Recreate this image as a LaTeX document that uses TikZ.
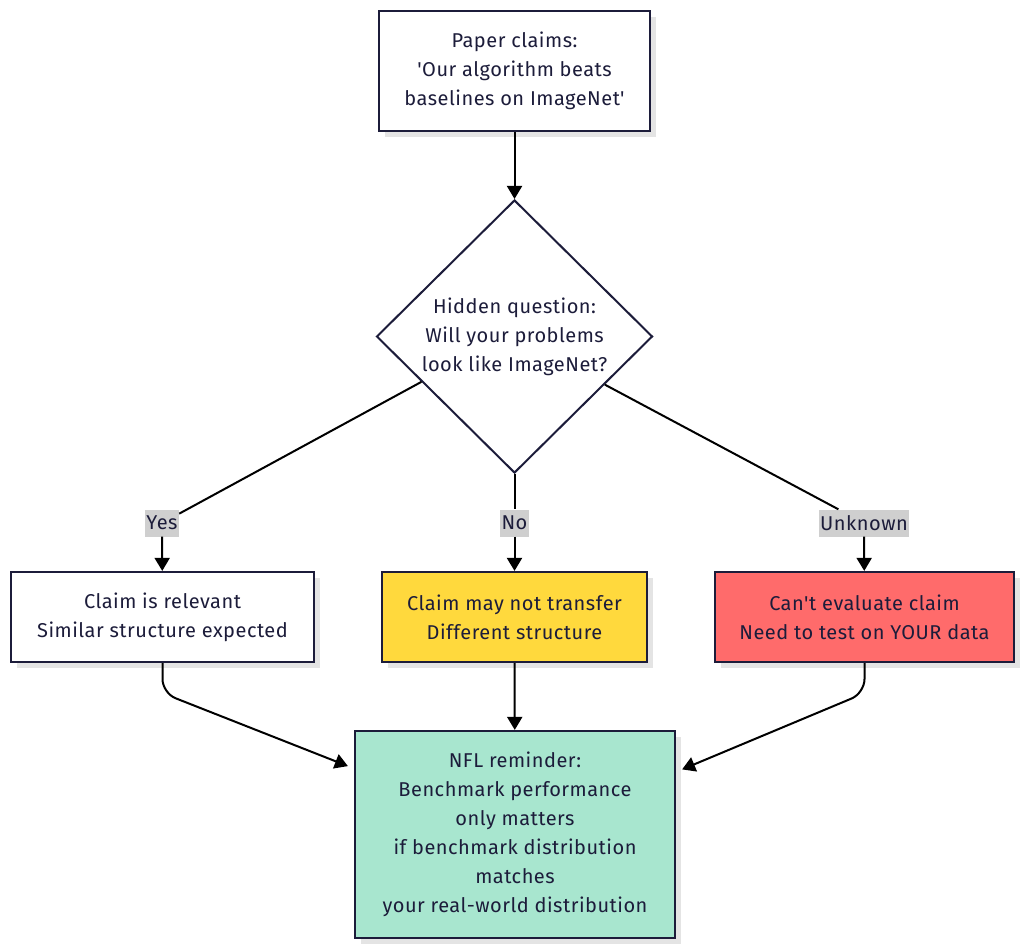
\documentclass[tikz,border=0pt]{standalone}
\usepackage{fontspec}
\setmainfont{Fira Sans}[Ligatures=TeXOff, LetterSpace=2.5]
\usetikzlibrary{arrows.meta,shapes.geometric,shadows,calc}
\definecolor{ink}{HTML}{1C1C3A}
\definecolor{shade}{HTML}{E4E4E4}
\definecolor{yel}{HTML}{FFD93D}
\definecolor{redc}{HTML}{FF6B6B}
\definecolor{teal}{HTML}{A8E6CF}
\definecolor{lblgrey}{HTML}{CFCFCF}
\tikzset{
  x=1pt,y=-1pt,
  every node/.style={font=\fontsize{20}{29}\selectfont, text=ink},
  box/.style={draw=ink, line width=2.2pt, rectangle, align=center, inner sep=0pt,
    drop shadow={shadow xshift=6pt, shadow yshift=-6pt, fill=shade, opacity=1}},
  decision/.style={draw=ink, line width=2pt, diamond, aspect=1, align=center, inner sep=0pt,
    minimum width=276pt, minimum height=273pt, fill=white},
  lbl/.style={fill=lblgrey, inner sep=1.5pt, minimum height=27pt},
  conn/.style={draw=black, line width=2pt},
  arr/.style={conn, -{Triangle[length=13pt,width=15pt]}}
}
\begin{document}
\begin{tikzpicture}
\useasboundingbox (0,0) rectangle (1024,949);
\node[box, fill=white, minimum width=271pt, minimum height=120pt] (top) at (514.5,71)
  {Paper claims:\\'Our algorithm beats\\baselines on ImageNet'};
\node[decision] (dec) at (514.5,336.5) {Hidden question:\\Will your problems\\look like ImageNet?};
\node[lbl] (yes) at (162,523) {Yes};
\node[lbl] (no) at (514.5,523) {No};
\node[lbl] (unk) at (864,523) {Unknown};
\node[box, fill=white, minimum width=303pt, minimum height=90pt] (left) at (162.5,617)
  {Claim is relevant\\Similar structure expected};
\node[box, fill=yel, minimum width=265pt, minimum height=90pt] (mid) at (514.5,617)
  {Claim may not transfer\\Different structure};
\node[box, fill=redc, minimum width=299pt, minimum height=90pt] (right) at (864.5,617)
  {Can't evaluate claim\\Need to test on YOUR data};
\node[box, fill=teal, minimum width=320pt, minimum height=207pt] (nfl) at (515,834.5)
  {NFL reminder:\\Benchmark performance\\only matters\\if benchmark distribution\\matches\\your real-world distribution};

\draw[arr] (top) -- (dec);
\draw[conn] ($(dec.west)!0.33!(dec.south)$) -- (yes);
\draw[conn] (dec.south) -- (no);
\draw[conn] ($(dec.east)!0.35!(dec.south)$) -- (unk);
\draw[arr] (yes) -- (left);
\draw[arr] (no) -- (mid);
\draw[arr] (unk) -- (right);
\draw[arr] (mid) -- (nfl);
\draw[arr, rounded corners=14pt] (left.south) -- ($(left.south)+(0,30)$) -- ($(nfl.157.4)+(-6,0)$);
\draw[arr, rounded corners=14pt] (right.south) -- ($(right.south)+(0,30)$) -- ($(nfl.22.6)+(6,0)$);
\end{tikzpicture}
\end{document}
